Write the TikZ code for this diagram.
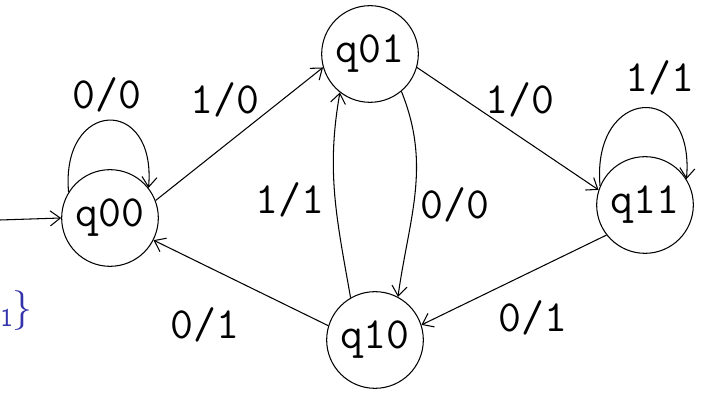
\documentclass[tikz,border=0pt]{standalone}
\usepackage{fontspec}
\usetikzlibrary{arrows.meta}
\definecolor{penblue}{RGB}{50,50,170}

\begin{document}
\begin{tikzpicture}[>={Straight Barb[length=3mm,width=4.5mm]},line width=0.9pt,
        st/.style={circle,draw,minimum size=2.9cm,inner sep=0pt,font=\ttfamily\fontsize{38}{38}\selectfont},
        lbl/.style={font=\ttfamily\fontsize{38}{38}\selectfont}]
        \useasboundingbox (0,0) rectangle (21.33,12.36);
        \node[st] (q00) at (3.3,5.82) {q00};
        \node[st] (q01) at (11.1,10.74) {q01};
        \node[st] (q11) at (19.35,6.21) {q11};
        \node[st] (q10) at (11.25,2.16) {q10};
        \coordinate (start) at (0,5.76);
        \draw[->] (start) -- (q00.180);
        \draw[->] (q00.148) .. controls +(95:2.8) and +(85:2.8) .. (q00.38);
        \draw[->] (q00.21) -- (q01.196);
        \draw[->] (q01.-16) -- (q11.162);
        \draw[->] (q11.157) .. controls +(95:3) and +(85:3) .. (q11.32);
        \draw[->] (q01.-50) to[out=-68,in=82] (q10.62);
        \draw[->] (q10.120) to[out=100,in=-100] (q01.232);
        \draw[->] (q11.218) -- (q10.18);
        \draw[->] (q10.163) -- (q00.-27);
        \node[lbl] (l1) at (3.21,9.51) {0/0};
        \node[lbl] (l2) at (6.75,9.36) {1/0};
        \node[lbl] (l3) at (15.6,9.36) {1/0};
        \node[lbl] (l4) at (19.8,10.02) {1/1};
        \node[lbl] (l5) at (8.7,6.36) {1/1};
        \node[lbl] (l6) at (13.65,6.21) {0/0};
        \node[lbl] (l7) at (15.99,2.82) {0/1};
        \node[lbl] (l8) at (6.15,2.61) {0/1};
        \node[penblue,inner sep=0pt,anchor=west,font=\sffamily\fontsize{34}{34}\selectfont] (frag) at (0,3.05)
            {\raisebox{-0.35ex}{\fontsize{22}{22}\selectfont 1}\}};
    \end{tikzpicture}
\end{document}
